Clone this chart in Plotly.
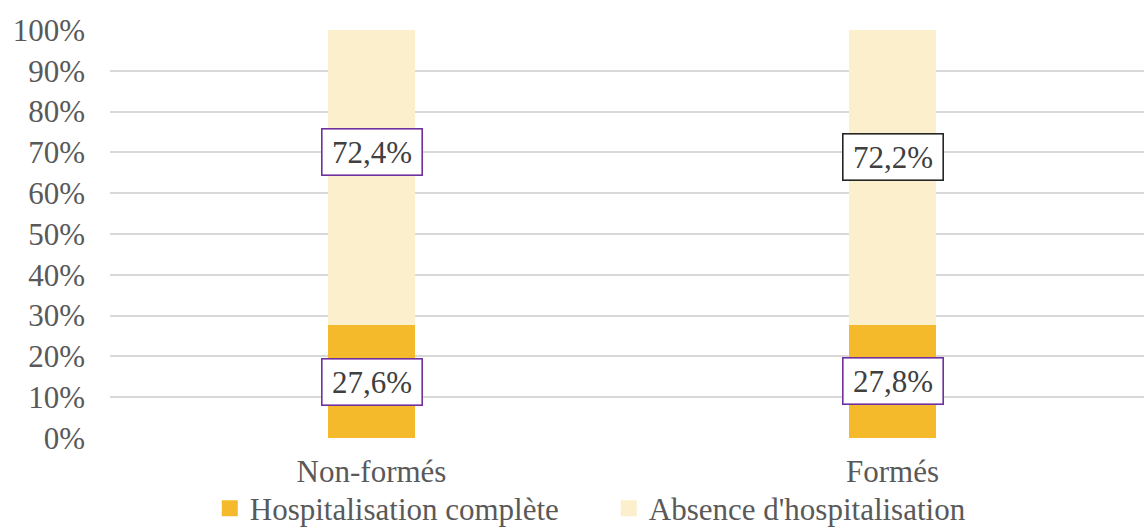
import plotly.graph_objects as go

# Share of people by hospitalisation status, per training group
categories = ["Non-formés", "Formés"]
hosp_complete = [27.6, 27.8]
no_hosp = [72.4, 72.2]
series_names = ["Hospitalisation complète", "Absence d'hospitalisation"]
tick_values = [0, 10, 20, 30, 40, 50, 60, 70, 80, 90, 100]
tick_labels = [f"{v}%" for v in tick_values]

FONT = "Liberation Serif"
TEXT_GRAY = "#595959"
ORANGE = "#F5BA2B"
CREAM = "#FBEFCC"

fig = go.Figure()

for name, vals, col in [(series_names[0], hosp_complete, ORANGE),
                        (series_names[1], no_hosp, CREAM)]:
    fig.add_trace(go.Bar(
        x=categories, y=vals, name=name, width=0.167,
        marker=dict(color=col, line=dict(width=0)),
        showlegend=False,
    ))
    # legend entry with a larger square swatch
    fig.add_trace(go.Scatter(
        x=[None], y=[None], mode="markers", name=name,
        marker=dict(symbol="square", size=16, color=col),
    ))

# Boxed value labels
label_style = dict(
    font=dict(family=FONT, size=31, color="#404040"),
    bgcolor="white", borderwidth=1.6, borderpad=3,
    width=93, height=39, align="center", valign="middle",
    showarrow=False, xref="x", yref="y",
)
lower_centres = [v / 2 for v in hosp_complete]
upper_label_y = [70.0, 68.8]
upper_borders = ["#7030A0", "#262626"]
for i, cat in enumerate(categories):
    fig.add_annotation(x=cat, y=lower_centres[i],
                       text=f"{hosp_complete[i]:.1f}%".replace(".", ","),
                       bordercolor="#7030A0", **label_style)
    fig.add_annotation(x=cat, y=upper_label_y[i],
                       text=f"{no_hosp[i]:.1f}%".replace(".", ","),
                       bordercolor=upper_borders[i], **label_style)

fig.update_layout(
    barmode="stack",
    width=1144, height=528,
    margin=dict(l=110, r=0, t=30, b=90, autoexpand=False),
    plot_bgcolor="white", paper_bgcolor="white",
    font=dict(family=FONT, size=31, color=TEXT_GRAY),
    legend=dict(
        orientation="h", x=0.0965, xanchor="left", y=-0.107, yanchor="top",
        traceorder="normal", entrywidth=354,
        font=dict(family=FONT, size=31, color=TEXT_GRAY),
        bgcolor="rgba(0,0,0,0)", itemsizing="trace",
    ),
    xaxis=dict(
        range=[-0.5019, 1.4827], showgrid=False, zeroline=False,
        showline=False, ticks="", ticklabelstandoff=12,
        tickfont=dict(family=FONT, size=31, color=TEXT_GRAY),
    ),
    yaxis=dict(
        range=[0, 100], tickvals=tick_values, ticktext=tick_labels,
        showgrid=True, gridcolor="#D9D9D9", gridwidth=1.5,
        zeroline=False, showline=False, ticks="", ticklabelstandoff=24,
        tickfont=dict(family=FONT, size=31, color=TEXT_GRAY),
    ),
)

fig.write_html("out.html")
